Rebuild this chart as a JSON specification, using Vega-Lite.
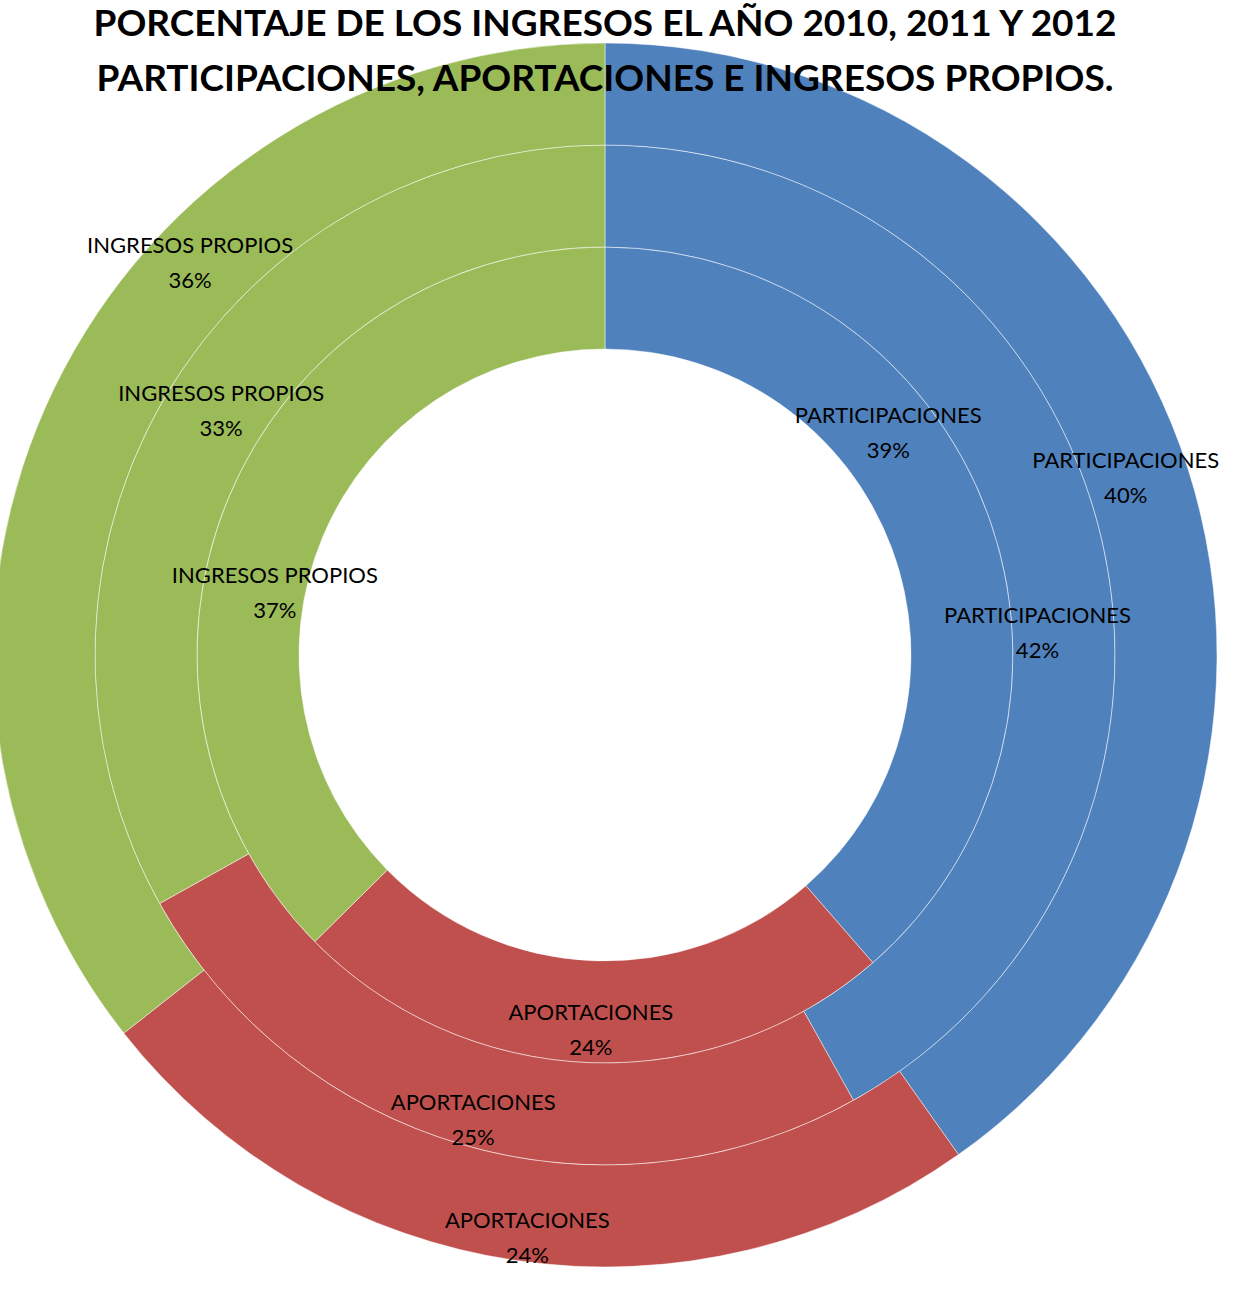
{
  "$schema": "https://vega.github.io/schema/vega-lite/v6.json",
  "width": 1210,
  "height": 1310,
  "autosize": {"type": "none"},
  "padding": {"left": 0, "top": 0, "right": 29, "bottom": 0},
  "background": "white",
  "title": {
    "text": ["PORCENTAJE  DE LOS INGRESOS EL AÑO 2010, 2011 Y 2012", "PARTICIPACIONES, APORTACIONES E INGRESOS PROPIOS."],
    "font": "Lato",
    "fontSize": 37,
    "fontWeight": "bold",
    "color": "black",
    "anchor": "middle",
    "offset": -99,
    "lineHeight": 55
  },
  "config": {"view": {"stroke": null}, "text": {"font": "Lato", "fontSize": 22, "color": "black"}},
  "data": {
    "values": [
      {"anio": "2010", "rubro": "PARTICIPACIONES", "orden": 1, "pct": 0.386},
      {"anio": "2010", "rubro": "APORTACIONES", "orden": 2, "pct": 0.240},
      {"anio": "2010", "rubro": "INGRESOS PROPIOS", "orden": 3, "pct": 0.374},
      {"anio": "2011", "rubro": "PARTICIPACIONES", "orden": 1, "pct": 0.419},
      {"anio": "2011", "rubro": "APORTACIONES", "orden": 2, "pct": 0.250},
      {"anio": "2011", "rubro": "INGRESOS PROPIOS", "orden": 3, "pct": 0.331},
      {"anio": "2012", "rubro": "PARTICIPACIONES", "orden": 1, "pct": 0.402},
      {"anio": "2012", "rubro": "APORTACIONES", "orden": 2, "pct": 0.242},
      {"anio": "2012", "rubro": "INGRESOS PROPIOS", "orden": 3, "pct": 0.356}
    ]
  },
  "encoding": {
    "theta": {"field": "pct", "type": "quantitative", "stack": true},
    "order": {"field": "orden", "type": "quantitative"}
  },
  "layer": [
    {
      "transform": [{"filter": "datum.anio == '2010'"}],
      "mark": {"type": "arc", "innerRadius": 306, "outerRadius": 408, "stroke": "white", "strokeWidth": 0.8, "strokeOpacity": 0.6},
      "encoding": {"color": {"field": "rubro", "type": "nominal", "scale": {"domain": ["PARTICIPACIONES", "APORTACIONES", "INGRESOS PROPIOS"], "range": ["#4F81BD", "#C0504D", "#9BBB59"]}, "legend": null}}
    },
    {
      "transform": [{"filter": "datum.anio == '2011'"}],
      "mark": {"type": "arc", "innerRadius": 408, "outerRadius": 510, "stroke": "white", "strokeWidth": 0.8, "strokeOpacity": 0.6},
      "encoding": {"color": {"field": "rubro", "type": "nominal", "legend": null}}
    },
    {
      "transform": [{"filter": "datum.anio == '2012'"}],
      "mark": {"type": "arc", "innerRadius": 510, "outerRadius": 612, "stroke": "white", "strokeWidth": 0.8, "strokeOpacity": 0.6},
      "encoding": {"color": {"field": "rubro", "type": "nominal", "legend": null}}
    },

    {"transform": [{"filter": "datum.anio == '2010'"}], "mark": {"type": "text", "radius": 360, "thetaOffset": -0.307, "dy": -17},
     "encoding": {"text": {"condition": {"test": "datum.rubro == 'PARTICIPACIONES'", "field": "rubro"}, "value": ""}}},
    {"transform": [{"filter": "datum.anio == '2010'"}], "mark": {"type": "text", "radius": 360, "thetaOffset": -0.307, "dy": 18},
     "encoding": {"text": {"condition": {"test": "datum.rubro == 'PARTICIPACIONES'", "field": "pct", "type": "quantitative", "format": ".0%"}, "value": ""}}},
    {"transform": [{"filter": "datum.anio == '2010'"}], "mark": {"type": "text", "radius": 375, "dy": -17},
     "encoding": {"text": {"condition": {"test": "datum.rubro == 'APORTACIONES'", "field": "rubro"}, "value": ""}}},
    {"transform": [{"filter": "datum.anio == '2010'"}], "mark": {"type": "text", "radius": 375, "dy": 18},
     "encoding": {"text": {"condition": {"test": "datum.rubro == 'APORTACIONES'", "field": "pct", "type": "quantitative", "format": ".0%"}, "value": ""}}},
    {"transform": [{"filter": "datum.anio == '2010'"}], "mark": {"type": "text", "radius": 336, "thetaOffset": -0.209, "dy": -17},
     "encoding": {"text": {"condition": {"test": "datum.rubro == 'INGRESOS PROPIOS'", "field": "rubro"}, "value": ""}}},
    {"transform": [{"filter": "datum.anio == '2010'"}], "mark": {"type": "text", "radius": 336, "thetaOffset": -0.209, "dy": 18},
     "encoding": {"text": {"condition": {"test": "datum.rubro == 'INGRESOS PROPIOS'", "field": "pct", "type": "quantitative", "format": ".0%"}, "value": ""}}},

    {"transform": [{"filter": "datum.anio == '2011'"}], "mark": {"type": "text", "radius": 433, "thetaOffset": 0.204, "dy": -17},
     "encoding": {"text": {"condition": {"test": "datum.rubro == 'PARTICIPACIONES'", "field": "rubro"}, "value": ""}}},
    {"transform": [{"filter": "datum.anio == '2011'"}], "mark": {"type": "text", "radius": 433, "thetaOffset": 0.204, "dy": 18},
     "encoding": {"text": {"condition": {"test": "datum.rubro == 'PARTICIPACIONES'", "field": "pct", "type": "quantitative", "format": ".0%"}, "value": ""}}},
    {"transform": [{"filter": "datum.anio == '2011'"}], "mark": {"type": "text", "radius": 483, "dy": -17},
     "encoding": {"text": {"condition": {"test": "datum.rubro == 'APORTACIONES'", "field": "rubro"}, "value": ""}}},
    {"transform": [{"filter": "datum.anio == '2011'"}], "mark": {"type": "text", "radius": 483, "dy": 18},
     "encoding": {"text": {"condition": {"test": "datum.rubro == 'APORTACIONES'", "field": "pct", "type": "quantitative", "format": ".0%"}, "value": ""}}},
    {"transform": [{"filter": "datum.anio == '2011'"}], "mark": {"type": "text", "radius": 455, "thetaOffset": 0.036, "dy": -17},
     "encoding": {"text": {"condition": {"test": "datum.rubro == 'INGRESOS PROPIOS'", "field": "rubro"}, "value": ""}}},
    {"transform": [{"filter": "datum.anio == '2011'"}], "mark": {"type": "text", "radius": 455, "thetaOffset": 0.036, "dy": 18},
     "encoding": {"text": {"condition": {"test": "datum.rubro == 'INGRESOS PROPIOS'", "field": "pct", "type": "quantitative", "format": ".0%"}, "value": ""}}},

    {"transform": [{"filter": "datum.anio == '2012'"}], "mark": {"type": "text", "radius": 550, "thetaOffset": -0.02, "dy": -17},
     "encoding": {"text": {"condition": {"test": "datum.rubro == 'PARTICIPACIONES'", "field": "rubro"}, "value": ""}}},
    {"transform": [{"filter": "datum.anio == '2012'"}], "mark": {"type": "text", "radius": 550, "thetaOffset": -0.02, "dy": 18},
     "encoding": {"text": {"condition": {"test": "datum.rubro == 'PARTICIPACIONES'", "field": "pct", "type": "quantitative", "format": ".0%"}, "value": ""}}},
    {"transform": [{"filter": "datum.anio == '2012'"}], "mark": {"type": "text", "radius": 588, "thetaOffset": -0.012, "dy": -17},
     "encoding": {"text": {"condition": {"test": "datum.rubro == 'APORTACIONES'", "field": "rubro"}, "value": ""}}},
    {"transform": [{"filter": "datum.anio == '2012'"}], "mark": {"type": "text", "radius": 588, "thetaOffset": -0.012, "dy": 18},
     "encoding": {"text": {"condition": {"test": "datum.rubro == 'APORTACIONES'", "field": "pct", "type": "quantitative", "format": ".0%"}, "value": ""}}},
    {"transform": [{"filter": "datum.anio == '2012'"}], "mark": {"type": "text", "radius": 571, "thetaOffset": 0.305, "dy": -17},
     "encoding": {"text": {"condition": {"test": "datum.rubro == 'INGRESOS PROPIOS'", "field": "rubro"}, "value": ""}}},
    {"transform": [{"filter": "datum.anio == '2012'"}], "mark": {"type": "text", "radius": 571, "thetaOffset": 0.305, "dy": 18},
     "encoding": {"text": {"condition": {"test": "datum.rubro == 'INGRESOS PROPIOS'", "field": "pct", "type": "quantitative", "format": ".0%"}, "value": ""}}}
  ]
}
